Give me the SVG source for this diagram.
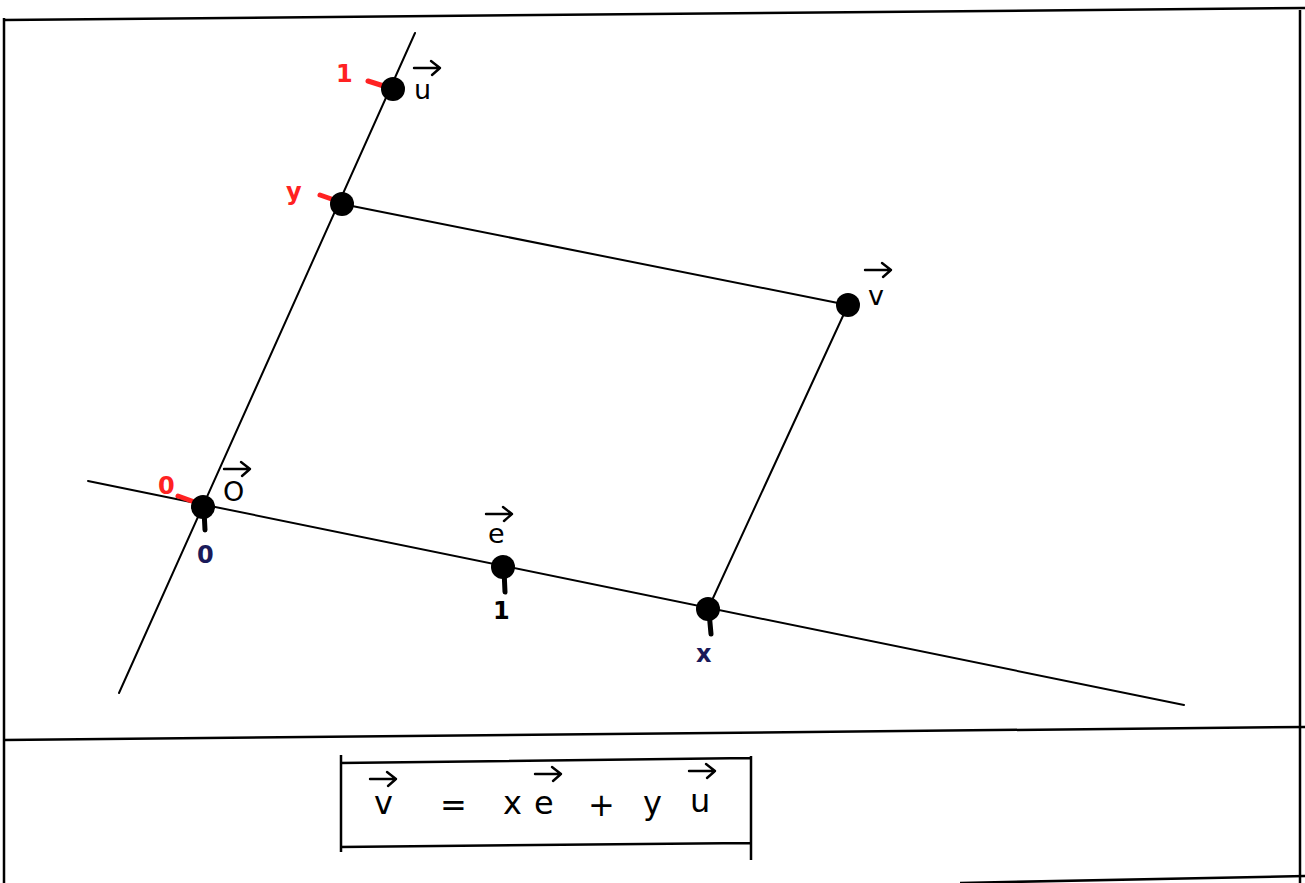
<svg xmlns="http://www.w3.org/2000/svg" width="1305" height="883" viewBox="0 0 1305 883">
<style>
.ln{stroke:#000;stroke-width:2;fill:none;stroke-linecap:round}
.fr{stroke:#000;stroke-width:2.5;fill:none}
.dot{fill:#000}
.tk{stroke:#000;stroke-width:5;stroke-linecap:round}
.rtk{stroke:#f22;stroke-width:5;stroke-linecap:round}
.lab{font-family:"DejaVu Sans",sans-serif;font-size:27px;fill:#000}
.red{font-family:"DejaVu Sans",sans-serif;font-size:24px;font-weight:bold;fill:#f22}
.blue{font-family:"DejaVu Sans",sans-serif;font-size:24px;font-weight:bold;fill:#1a1a5a}
.frm{font-family:"DejaVu Sans",sans-serif;font-size:32px;fill:#000}
.arr{stroke:#000;stroke-width:2.4;fill:none;stroke-linecap:round;stroke-linejoin:round}
</style>
<defs>
<path id="vec" d="M0,0 H26 M17,-7 L26,0 L18,7"/>
</defs>
<rect width="1305" height="883" fill="#fff"/>
<g id="frame">
<path class="fr" d="M4,20 L1305,8"/>
<path class="fr" d="M4,18 L4,883"/>
<path class="fr" d="M1300,10 L1300,883"/>
<path class="fr" d="M4,740 L1305,727"/>
<path class="fr" d="M960,883 L1305,876"/>
</g>
<g id="connectors">
<path class="ln" d="M119,693 L415,33"/>
<path class="ln" d="M88,481 L1184,705"/>
<path class="ln" d="M342,204 L848,305"/>
<path class="ln" d="M848,305 L708,609"/>
</g>
<g id="node-u">
<line class="rtk" x1="368" y1="81" x2="390" y2="88"/>
<circle class="dot" cx="393" cy="89" r="12"/>
<text class="red" x="336" y="82">1</text>
<use href="#vec" class="arr" x="414" y="68"/>
<text class="lab" x="414" y="99">u</text>
</g>
<g id="node-y">
<line class="rtk" x1="320" y1="195" x2="340" y2="202"/>
<circle class="dot" cx="342" cy="204" r="12"/>
<text class="red" x="286" y="200">y</text>
</g>
<g id="node-v">
<circle class="dot" cx="848" cy="305" r="12"/>
<use href="#vec" class="arr" x="865" y="270"/>
<text class="lab" x="868" y="305">v</text>
</g>
<g id="node-O">
<line class="rtk" x1="178" y1="496" x2="200" y2="504"/>
<circle class="dot" cx="203" cy="507" r="12"/>
<line class="tk" x1="204" y1="510" x2="205" y2="530"/>
<text class="red" x="158" y="494">0</text>
<use href="#vec" class="arr" x="224" y="469"/>
<text class="lab" x="223" y="501">O</text>
<text class="blue" x="197" y="563">0</text>
</g>
<g id="node-e">
<circle class="dot" cx="503" cy="567" r="12"/>
<line class="tk" x1="504" y1="570" x2="505" y2="592"/>
<use href="#vec" class="arr" x="486" y="514"/>
<text class="lab" x="488" y="543">e</text>
<text class="blue" x="493" y="619" style="fill:#000">1</text>
</g>
<g id="node-x">
<circle class="dot" cx="708" cy="609" r="12"/>
<line class="tk" x1="709" y1="612" x2="711" y2="634"/>
<text class="blue" x="696" y="662">x</text>
</g>
<g id="formula">
<path class="fr" d="M340,763 L750,758 M341,755 L341,852 M751,756 L751,860 M340,847 L750,843"/>
<use href="#vec" class="arr" x="370" y="779"/>
<text class="frm" x="374" y="814">v</text>
<text class="frm" x="440" y="816">=</text>
<text class="frm" x="503" y="814">x</text>
<use href="#vec" class="arr" x="535" y="774"/>
<text class="frm" x="534" y="814">e</text>
<text class="frm" x="588" y="816">+</text>
<text class="frm" x="643" y="814">y</text>
<use href="#vec" class="arr" x="689" y="771"/>
<text class="frm" x="690" y="812">u</text>
</g>
</svg>
